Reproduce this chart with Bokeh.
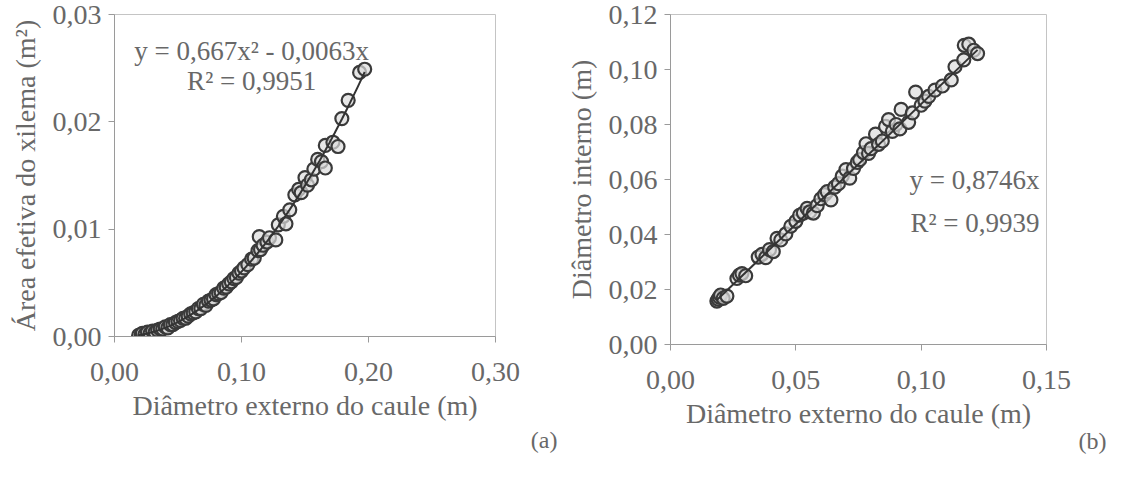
from bokeh.plotting import figure
from bokeh.layouts import row
from bokeh.models import Range1d, FixedTicker, Label, Title
from bokeh.embed import file_html
from bokeh.resources import INLINE

# ---------------- data: panel (a) ----------------
a_x = [0.019, 0.021, 0.022, 0.024, 0.026, 0.028, 0.030, 0.032, 0.034, 0.036,
       0.038, 0.040, 0.042, 0.044, 0.046, 0.048, 0.050, 0.052, 0.054, 0.056,
       0.058, 0.060, 0.062, 0.064, 0.066, 0.068, 0.070, 0.072, 0.074, 0.076,
       0.078, 0.080, 0.082, 0.084, 0.086, 0.088, 0.090, 0.092, 0.094, 0.096,
       0.098, 0.100, 0.102, 0.105, 0.108, 0.110, 0.113, 0.114, 0.115, 0.117,
       0.120, 0.122, 0.127, 0.129, 0.133, 0.135, 0.138, 0.142, 0.145, 0.147,
       0.150, 0.152, 0.155, 0.157, 0.160, 0.163, 0.166, 0.166, 0.172, 0.176,
       0.179, 0.184, 0.193, 0.197]
a_y = [0.0001, 0.0002, 0.0003, 0.0002, 0.0004, 0.0003, 0.0005, 0.0004, 0.0006, 0.0007,
       0.0007, 0.0009, 0.0008, 0.0011, 0.0011, 0.0013, 0.0014, 0.0015, 0.0017, 0.0017,
       0.0019, 0.0021, 0.0022, 0.0023, 0.0026, 0.0026, 0.0030, 0.0029, 0.0033, 0.0034,
       0.0035, 0.0039, 0.0040, 0.0041, 0.0045, 0.0046, 0.0049, 0.0051, 0.0054, 0.0055,
       0.0059, 0.0061, 0.0064, 0.0067, 0.0072, 0.0073, 0.0080, 0.0093, 0.0081, 0.0085,
       0.0088, 0.0092, 0.0090, 0.0104, 0.0112, 0.0105, 0.0118, 0.0132, 0.0137, 0.0134,
       0.0148, 0.0141, 0.0146, 0.0156, 0.0165, 0.0163, 0.0178, 0.0157, 0.0181, 0.0177,
       0.0203, 0.0220, 0.0246, 0.0249]
a_coef = [0.667, -0.0063]          # y = 0,667x² - 0,0063x
a_fit_x = [0.019, 0.197]
a_xticks = [0.0, 0.1, 0.2, 0.3]
a_xlabels = ["0,00", "0,10", "0,20", "0,30"]
a_yticks = [0.0, 0.01, 0.02, 0.03]
a_ylabels = ["0,00", "0,01", "0,02", "0,03"]

# ---------------- data: panel (b) ----------------
b_x = [0.0185, 0.0190, 0.0195, 0.0200, 0.0210, 0.0225, 0.0265, 0.0275, 0.0285, 0.0300,
       0.0350, 0.0365, 0.0380, 0.0395, 0.0410, 0.0425, 0.0440, 0.0460, 0.0480, 0.0500,
       0.0515, 0.0530, 0.0545, 0.0555, 0.0570, 0.0585, 0.0600, 0.0615, 0.0625, 0.0640,
       0.0655, 0.0670, 0.0685, 0.0700, 0.0715, 0.0730, 0.0745, 0.0755, 0.0770, 0.0780,
       0.0790, 0.0800, 0.0818, 0.0830, 0.0845, 0.0858, 0.0870, 0.0885, 0.0900, 0.0915,
       0.0920, 0.0950, 0.0965, 0.0978, 0.1000, 0.1015, 0.1030, 0.1055, 0.1085, 0.1120,
       0.1135, 0.1170, 0.1172, 0.1190, 0.1210, 0.1225]
b_y = [0.0158, 0.0165, 0.0172, 0.0180, 0.0168, 0.0176, 0.0240, 0.0252, 0.0258, 0.0250,
       0.0318, 0.0328, 0.0316, 0.0345, 0.0338, 0.0386, 0.0380, 0.0402, 0.0430, 0.0448,
       0.0470, 0.0478, 0.0495, 0.0482, 0.0478, 0.0505, 0.0530, 0.0545, 0.0556, 0.0526,
       0.0572, 0.0585, 0.0612, 0.0636, 0.0605, 0.0640, 0.0662, 0.0672, 0.0698, 0.0730,
       0.0695, 0.0712, 0.0765, 0.0728, 0.0740, 0.0793, 0.0818, 0.0775, 0.0800, 0.0784,
       0.0855, 0.0808, 0.0842, 0.0918, 0.0870, 0.0885, 0.0902, 0.0925, 0.0940, 0.0962,
       0.1010, 0.1035, 0.1088, 0.1092, 0.1070, 0.1058]
b_slope = 0.8746                   # y = 0,8746x
b_fit_x = [0.0185, 0.1225]
b_xticks = [0.0, 0.05, 0.10, 0.15]
b_xlabels = ["0,00", "0,05", "0,10", "0,15"]
b_yticks = [0.0, 0.02, 0.04, 0.06, 0.08, 0.10, 0.12]
b_ylabels = ["0,00", "0,02", "0,04", "0,06", "0,08", "0,10", "0,12"]

FONT = "Liberation Serif"
TXT = "#686868"
FS = "28px"
EQ_FS = "27px"


def style(p, xt, xl, yt, yl):
    p.background_fill_color = "white"
    p.border_fill_color = "white"
    p.outline_line_color = "#c4c4c4"
    p.outline_line_width = 1
    p.xgrid.visible = False
    p.ygrid.visible = False
    p.xaxis.ticker = FixedTicker(ticks=xt)
    p.yaxis.ticker = FixedTicker(ticks=yt)
    p.xaxis.major_label_overrides = {t: l for t, l in zip(xt, xl)}
    p.yaxis.major_label_overrides = {t: l for t, l in zip(yt, yl)}
    for ax in (p.xaxis[0], p.yaxis[0]):
        ax.axis_line_color = "#9a9a9a"
        ax.major_tick_line_color = "#9a9a9a"
        ax.major_tick_out = 6
        ax.major_tick_in = 0
        ax.minor_tick_line_color = None
        ax.major_label_text_font = FONT
        ax.major_label_text_font_size = FS
        ax.major_label_text_color = TXT
        ax.axis_label_text_font = FONT
        ax.axis_label_text_font_size = FS
        ax.axis_label_text_color = TXT
        ax.axis_label_text_font_style = "normal"
    p.xaxis.major_label_standoff = 20
    p.yaxis.major_label_standoff = 7
    p.xaxis.axis_label_standoff = 6
    p.yaxis.axis_label_standoff = 9


def tag(p, text, offset, standoff):
    p.add_layout(Title(text=text, align="right", offset=offset, standoff=standoff,
                       text_font=FONT, text_font_size="24px", text_color=TXT,
                       text_font_style="normal"), "below")


# ---------------- panel (a) ----------------
p1 = figure(frame_width=381, frame_height=322, output_backend="svg", toolbar_location=None,
            x_range=Range1d(0, 0.3), y_range=Range1d(0, 0.03),
            min_border_left=114, min_border_right=64, min_border_top=14, min_border_bottom=125)
style(p1, a_xticks, a_xlabels, a_yticks, a_ylabels)
p1.xaxis.axis_label = "Diâmetro externo do caule (m)"
p1.yaxis.axis_label = "Área efetiva do xilema (m²)"

fx = [a_fit_x[0] + (a_fit_x[1] - a_fit_x[0]) * i / 60 for i in range(61)]
fy = [a_coef[0] * v * v + a_coef[1] * v for v in fx]
p1.scatter(a_x, a_y, size=13, line_color="#3a3a3a", line_width=2.2,
           fill_color="#dcdcdc", fill_alpha=0.7)
p1.line(fx, fy, line_color="#333333", line_width=2)
p1.add_layout(Label(x=0.108, y=0.0266, text="y = 0,667x² - 0,0063x", text_font=FONT,
                    text_font_size=EQ_FS, text_color=TXT, text_align="center",
                    text_baseline="middle"))
p1.add_layout(Label(x=0.108, y=0.0238, text="R² = 0,9951", text_font=FONT,
                    text_font_size=EQ_FS, text_color=TXT, text_align="center",
                    text_baseline="middle"))
tag(p1, "(a)", -62, 2)

# ---------------- panel (b) ----------------
p2 = figure(frame_width=376, frame_height=330, output_backend="svg", toolbar_location=None,
            x_range=Range1d(0, 0.15), y_range=Range1d(0, 0.12),
            min_border_left=111, min_border_right=66, min_border_top=10, min_border_bottom=121)
style(p2, b_xticks, b_xlabels, b_yticks, b_ylabels)
p2.xaxis.axis_label = "Diâmetro externo do caule (m)"
p2.yaxis.axis_label = "Diâmetro interno (m)"

p2.scatter(b_x, b_y, size=13, line_color="#3a3a3a", line_width=2.2,
           fill_color="#dcdcdc", fill_alpha=0.7)
p2.line(b_fit_x, [b_slope * v for v in b_fit_x], line_color="#333333", line_width=2)
p2.add_layout(Label(x=0.1472, y=0.0600, text="y = 0,8746x", text_font=FONT,
                    text_font_size=EQ_FS, text_color=TXT, text_align="right",
                    text_baseline="middle"))
p2.add_layout(Label(x=0.1472, y=0.0442, text="R² = 0,9939", text_font=FONT,
                    text_font_size=EQ_FS, text_color=TXT, text_align="right",
                    text_baseline="middle"))
tag(p2, "(b)", -60, -11)

layout = row(p1, p2)
open("out.html", "w").write(file_html(layout, INLINE))
